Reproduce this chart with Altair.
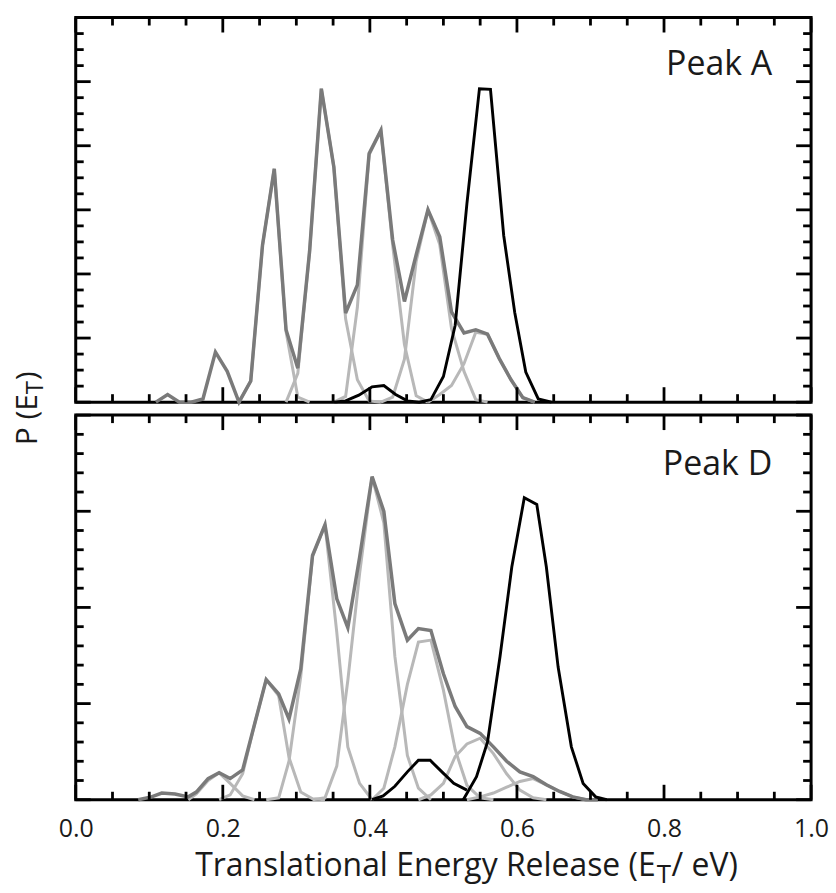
import altair as alt
import pandas as pd

FONT = "Open Sans"
TEXT_COLOR = "#1a1a1a"
LIGHT = "#b8b8b8"
DARK = "#7a7a7a"
BLACK = "#000000"

W = 738
H = 386

# ---------------- tick positions ----------------
X_MAJOR = [0.0, 0.2, 0.4, 0.6, 0.8, 1.0]
X_MINOR = [0.05, 0.1, 0.15, 0.25, 0.3, 0.35, 0.45, 0.5, 0.55, 0.65, 0.7, 0.75, 0.85, 0.9, 0.95]
A_YMAX = 6
A_Y_MAJOR = [0, 1, 2, 3, 4, 5, 6]
A_Y_MINOR = [i / 4 for i in range(0, 25) if i % 4]
D_YMAX = 4
D_Y_MAJOR = [0, 1, 2, 3, 4]
D_Y_MINOR = [i / 5 for i in range(0, 21) if i % 5]

# ---------------- Peak A ----------------
A_SUM_X = [0.109, 0.125, 0.141, 0.157, 0.173, 0.190, 0.206, 0.222, 0.238, 0.254, 0.270,
           0.286, 0.302, 0.318, 0.334, 0.351, 0.367, 0.383, 0.399, 0.415, 0.431, 0.447,
           0.463, 0.479, 0.495, 0.511, 0.528, 0.544, 0.560, 0.576, 0.592, 0.608, 0.624]
A_SUM_Y = [0.0, 0.12, 0.0, 0.0, 0.05, 0.78, 0.48, 0.0, 0.33, 2.45, 3.64,
           1.13, 0.53, 2.35, 4.89, 3.67, 1.39, 1.83, 3.88, 4.24, 2.53, 1.57,
           2.30, 3.00, 2.58, 1.41, 1.08, 1.13, 1.06, 0.68, 0.35, 0.07, 0.0]

A_C1_X = [0.222, 0.238, 0.254, 0.270, 0.286, 0.302, 0.318]
A_C1_Y = [0.0, 0.33, 2.45, 3.64, 1.10, 0.08, 0.0]
A_C2_X = [0.286, 0.302, 0.318, 0.334, 0.351, 0.367, 0.383, 0.399, 0.415]
A_C2_Y = [0.0, 0.45, 2.35, 4.89, 3.67, 1.30, 0.35, 0.02, 0.0]
A_C3_X = [0.351, 0.367, 0.383, 0.399, 0.415, 0.431, 0.447, 0.463, 0.479]
A_C3_Y = [0.0, 0.09, 1.48, 3.86, 4.24, 2.45, 0.90, 0.10, 0.0]
A_C4_X = [0.415, 0.431, 0.447, 0.463, 0.479, 0.495, 0.511, 0.528, 0.544, 0.560]
A_C4_Y = [0.0, 0.08, 0.67, 2.20, 3.00, 2.46, 1.15, 0.48, 0.04, 0.0]
A_C5_X = [0.479, 0.495, 0.511, 0.528, 0.544, 0.560, 0.576, 0.592, 0.608, 0.624]
A_C5_Y = [0.0, 0.12, 0.26, 0.60, 1.09, 1.06, 0.68, 0.35, 0.07, 0.0]

A_BLK_X = [0.351, 0.367, 0.385, 0.403, 0.419, 0.435, 0.451, 0.467, 0.483, 0.500, 0.516,
           0.532, 0.549, 0.564, 0.582, 0.597, 0.612, 0.629, 0.647]
A_BLK_Y = [0.0, 0.02, 0.11, 0.24, 0.26, 0.12, 0.02, 0.0, 0.04, 0.40, 1.20,
           3.10, 4.89, 4.88, 2.60, 1.40, 0.47, 0.05, 0.0]

# ---------------- Peak D ----------------
D_SUM_X = [0.085, 0.103, 0.117, 0.135, 0.153, 0.164, 0.180, 0.195, 0.210, 0.227,
           0.243, 0.259, 0.276, 0.290, 0.306, 0.322, 0.339, 0.355, 0.370, 0.386,
           0.403, 0.419, 0.434, 0.451, 0.466, 0.483, 0.500, 0.516, 0.532, 0.550,
           0.568, 0.586, 0.604, 0.622, 0.640, 0.658, 0.676, 0.694, 0.710]
D_SUM_Y = [0.0, 0.03, 0.07, 0.06, 0.03, 0.08, 0.22, 0.28, 0.22, 0.31,
           0.78, 1.25, 1.10, 0.84, 1.36, 2.54, 2.86, 2.09, 1.79, 2.52,
           3.36, 3.00, 2.04, 1.66, 1.78, 1.76, 1.31, 0.97, 0.76, 0.69,
           0.55, 0.40, 0.29, 0.24, 0.155, 0.086, 0.03, 0.0, 0.0]

D_C1_X = [0.153, 0.164, 0.180, 0.195, 0.210, 0.227, 0.243]
D_C1_Y = [0.0, 0.06, 0.20, 0.28, 0.17, 0.04, 0.0]
D_C2_X = [0.195, 0.210, 0.227, 0.243, 0.259, 0.276, 0.290, 0.306, 0.322, 0.339]
D_C2_Y = [0.0, 0.05, 0.27, 0.78, 1.25, 1.08, 0.44, 0.08, 0.01, 0.0]
D_C3_X = [0.259, 0.276, 0.290, 0.306, 0.322, 0.339, 0.355, 0.370, 0.386, 0.403]
D_C3_Y = [0.0, 0.02, 0.40, 1.28, 2.53, 2.86, 1.74, 0.55, 0.17, 0.0]
D_C4_X = [0.322, 0.339, 0.355, 0.370, 0.386, 0.403, 0.419, 0.434, 0.451, 0.466, 0.483]
D_C4_Y = [0.0, 0.02, 0.35, 1.24, 2.35, 3.36, 2.88, 1.49, 0.46, 0.12, 0.0]
D_C5_X = [0.403, 0.419, 0.434, 0.451, 0.466, 0.483, 0.500, 0.516, 0.532, 0.550, 0.568]
D_C5_Y = [0.0, 0.12, 0.55, 1.20, 1.64, 1.66, 1.14, 0.52, 0.15, 0.02, 0.0]
D_C6_X = [0.466, 0.483, 0.500, 0.516, 0.532, 0.550, 0.568, 0.586, 0.604, 0.622, 0.640]
D_C6_Y = [0.0, 0.05, 0.17, 0.45, 0.58, 0.64, 0.48, 0.27, 0.10, 0.02, 0.0]
D_C7_X = [0.532, 0.550, 0.568, 0.586, 0.604, 0.622, 0.640, 0.658, 0.676, 0.694]
D_C7_Y = [0.0, 0.03, 0.07, 0.13, 0.19, 0.22, 0.155, 0.086, 0.03, 0.0]

D_BLK1_X = [0.403, 0.418, 0.434, 0.451, 0.466, 0.482, 0.498, 0.514, 0.532]
D_BLK1_Y = [0.0, 0.04, 0.14, 0.29, 0.41, 0.41, 0.29, 0.17, 0.10]
D_BLK2_X = [0.527, 0.545, 0.560, 0.577, 0.593, 0.610, 0.627, 0.640, 0.656, 0.674, 0.690, 0.707, 0.722]
D_BLK2_Y = [0.0, 0.24, 0.60, 1.49, 2.42, 3.14, 3.07, 2.42, 1.38, 0.55, 0.17, 0.03, 0.0]


def series_df(items):
    rows = []
    for name, kind, xs, ys in items:
        for x, y in zip(xs, ys):
            rows.append({"series": name, "kind": kind, "x": x, "y": y})
    return pd.DataFrame(rows)


A_DF = series_df([
    ("c1", "comp", A_C1_X, A_C1_Y), ("c2", "comp", A_C2_X, A_C2_Y),
    ("c3", "comp", A_C3_X, A_C3_Y), ("c4", "comp", A_C4_X, A_C4_Y),
    ("c5", "comp", A_C5_X, A_C5_Y),
    ("sum", "sum", A_SUM_X, A_SUM_Y),
    ("blk", "black", A_BLK_X, A_BLK_Y),
])
D_DF = series_df([
    ("c1", "comp", D_C1_X, D_C1_Y), ("c2", "comp", D_C2_X, D_C2_Y),
    ("c3", "comp", D_C3_X, D_C3_Y), ("c4", "comp", D_C4_X, D_C4_Y),
    ("c5", "comp", D_C5_X, D_C5_Y), ("c6", "comp", D_C6_X, D_C6_Y),
    ("c7", "comp", D_C7_X, D_C7_Y),
    ("sum", "sum", D_SUM_X, D_SUM_Y),
    ("blk1", "black", D_BLK1_X, D_BLK1_Y),
    ("blk2", "black", D_BLK2_X, D_BLK2_Y),
])

X_SCALE = alt.Scale(domain=[0, 1], nice=False, zero=False)


def x_axis(show):
    if not show:
        return None
    return alt.Axis(values=X_MAJOR, format=".1f", labelFont=FONT, labelFontSize=25,
                    labelColor=TEXT_COLOR, ticks=False, tickSize=0, domain=False,
                    grid=False, labelPadding=17, title=None, labelFlush=False)


def panel(df, ymax, y_major, y_minor, label, label_y, show_x, extra=()):
    ys = alt.Scale(domain=[0, ymax], nice=False, zero=True)
    xa = x_axis(show_x)

    def xe(field):
        return alt.X(field + ":Q", scale=X_SCALE, axis=xa)

    layers = []
    for kind, color, width in (("comp", LIGHT, 3.0), ("sum", DARK, 3.5), ("black", BLACK, 2.9)):
        layers.append(
            alt.Chart(df).transform_filter(alt.datum.kind == kind)
            .mark_line(color=color, strokeWidth=width)
            .encode(x=xe("x"), y=alt.Y("y:Q", scale=ys, axis=None), detail="series:N")
        )
    for vals, L in ((X_MAJOR, 15), (X_MINOR, 8)):
        d = pd.DataFrame({"v": vals})
        base = alt.Chart(d).mark_rule(color="black", strokeWidth=2.8)
        layers.append(base.encode(x=xe("v"), y=alt.value(0), y2=alt.value(L)))
        layers.append(base.encode(x=xe("v"), y=alt.value(H), y2=alt.value(H - L)))
    for vals, L in ((y_major, 15), (y_minor, 8)):
        d = pd.DataFrame({"v": vals})
        base = alt.Chart(d).mark_rule(color="black", strokeWidth=2.8)
        layers.append(base.encode(y=alt.Y("v:Q", scale=ys, axis=None), x=alt.value(0), x2=alt.value(L)))
        layers.append(base.encode(y=alt.Y("v:Q", scale=ys, axis=None), x=alt.value(W), x2=alt.value(W - L)))
    one = pd.DataFrame({"a": [0]})
    layers.append(
        alt.Chart(one).mark_text(align="right", baseline="alphabetic", font=FONT,
                                 fontSize=34, color=TEXT_COLOR)
        .encode(x=alt.value(699), y=alt.value(label_y), text=alt.value(label))
    )
    for spec in extra:
        txt, x, y, size, angle, align = spec
        layers.append(
            alt.Chart(one).mark_text(align=align, baseline="alphabetic", font=FONT,
                                     fontSize=size, color=TEXT_COLOR, angle=angle)
            .encode(x=alt.value(x), y=alt.value(y), text=alt.value(txt))
        )
    return alt.layer(*layers).properties(width=W, height=H)


Y_TITLE = [
    ("P (E", -39, 378, 30, 270, "right"),
    ("T", -33, 378, 24, 270, "left"),
    (")", -39, 364, 30, 270, "left"),
]
X_TITLE = [
    ("Translational Energy Release (E", 582, 463, 32, 0, "right"),
    ("T", 583, 470, 26, 0, "left"),
    ("/ eV)", 598, 463, 32, 0, "left"),
]

top = panel(A_DF, A_YMAX, A_Y_MAJOR, A_Y_MINOR, "Peak A", 58, False, Y_TITLE)
bottom = panel(D_DF, D_YMAX, D_Y_MAJOR, D_Y_MINOR, "Peak D", 60, True, X_TITLE)

chart = (
    alt.vconcat(top, bottom, spacing=13, bounds="flush")
    .properties(padding={"left": 11, "top": 13, "right": 5, "bottom": 4}, background="white")
    .configure_view(stroke="black", strokeWidth=3)
)

chart.save("out.html", embed_options={"renderer": "svg", "actions": False})
